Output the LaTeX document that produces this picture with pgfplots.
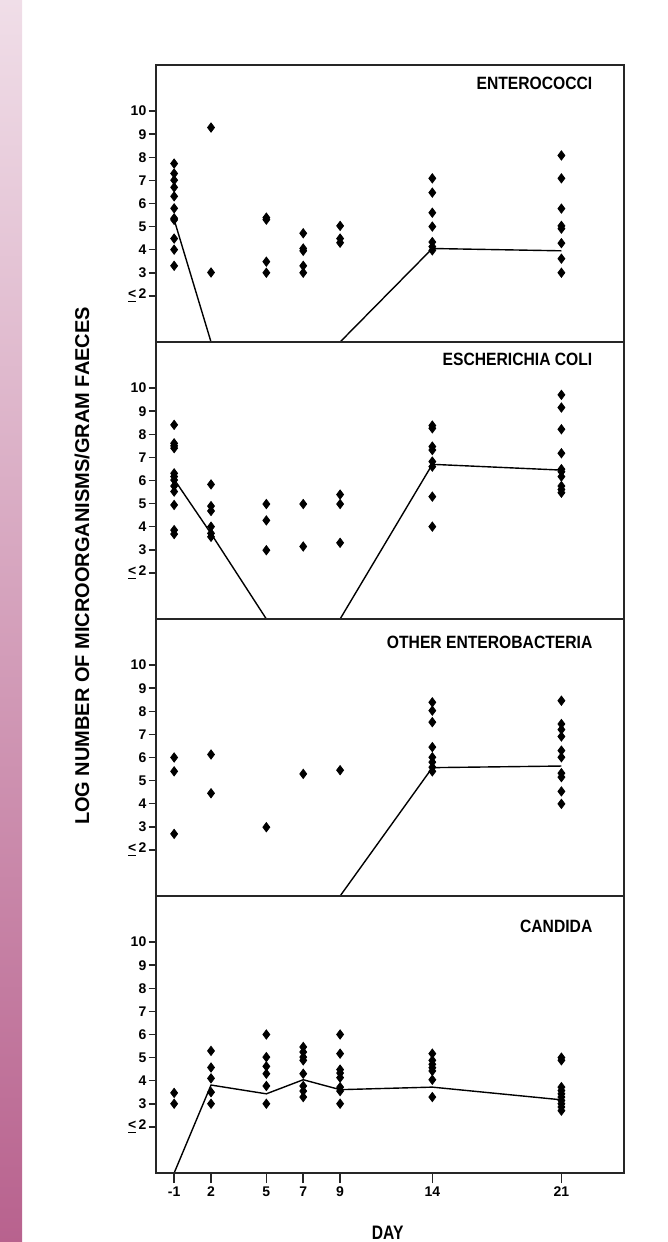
\documentclass[border=0pt]{standalone}
\usepackage{fontspec}
\setmainfont{Liberation Sans}
\newfontfamily\condfont[FakeStretch=0.88]{Liberation Sans}
\newfontfamily\daysfont[FakeStretch=0.8]{Liberation Sans}
\usepackage{pgfplots}
\pgfplotsset{compat=1.18}

\definecolor{pinktop}{RGB}{240,222,232}
\definecolor{pinkbot}{RGB}{184,98,142}

\pgfplotsset{
  panel/.style={
    scale only axis, width=234.2pt, height=138.5pt,
    anchor=north west,
    xmin=-1, xmax=24.4, ymin=0, ymax=12,
    ytick={2,...,10},
    yticklabels={{\underline{<}\,2},3,4,5,6,7,8,9,10},
    ytick pos=left, xtick=\empty,
    tick align=outside, major tick length=3.5pt,
    axis line style={line width=1pt, black!85},
    every tick/.style={black!85, line width=0.8pt},
    tick label style={font=\bfseries\fontsize{7}{8}\selectfont},
    yticklabel style={inner sep=1pt},
    /pgf/number format/assume math mode=true,
    axis on top,
  },
  pts/.style={only marks, mark=diamond*, mark size=2.3pt, black},
  avg/.style={no marks, black, line width=0.7pt},
}
\newcommand{\paneltitle}[2]{\node[anchor=base east, inner sep=0pt,
  font=\condfont\bfseries\fontsize{8.9}{10}\selectfont] at (axis cs:22.7,#1) {#2};}

\begin{document}
\begin{tikzpicture}
\path[use as bounding box] (0,0) rectangle (334pt,621pt);
\shade[top color=pinktop, bottom color=pinkbot] (0,0) rectangle (11pt,621pt);

% Enterococci
\begin{axis}[panel, at={(77.85pt,588.5pt)}]
\addplot[pts] coordinates {
 (0,7.73)(0,7.30)(0,7.01)(0,6.70)(0,6.31)(0,5.79)(0,5.36)(0,5.29)(0,4.48)(0,4.00)(0,3.30)
 (2,9.29)(2,3.01)
 (5,5.39)(5,5.30)(5,3.48)(5,3.00)
 (7,4.71)(7,4.05)(7,3.95)(7,3.30)(7,3.00)
 (9,5.03)(9,4.48)(9,4.30)
 (14,7.09)(14,6.47)(14,5.60)(14,5.00)(14,4.33)(14,4.13)(14,3.97)
 (21,8.08)(21,7.09)(21,5.78)(21,5.03)(21,4.91)(21,4.28)(21,3.61)(21,3.00)
};
\addplot[avg] coordinates {(0,5.30)(2,0)(5,0)(7,0)(9,0)(14,4.05)(21,3.95)};
\paneltitle{10.92}{ENTEROCOCCI}
\end{axis}

% Escherichia coli
\begin{axis}[panel, at={(77.85pt,450pt)}]
\addplot[pts] coordinates {
 (0,8.41)(0,7.61)(0,7.50)(0,7.40)(0,6.31)(0,6.17)(0,6.02)(0,5.76)(0,5.52)(0,4.94)(0,3.85)(0,3.68)
 (2,5.83)(2,4.89)(2,4.68)(2,4.00)(2,3.71)(2,3.56)
 (5,4.98)(5,4.27)(5,2.98)
 (7,4.98)(7,3.14)
 (9,5.39)(9,4.98)(9,3.30)
 (14,8.38)(14,8.26)(14,7.47)(14,7.32)(14,6.82)(14,6.60)(14,5.30)(14,4.00)
 (21,9.71)(21,9.16)(21,8.22)(21,7.18)(21,6.49)(21,6.38)(21,6.17)(21,5.76)(21,5.61)(21,5.47)
};
\addplot[avg] coordinates {(0,6.05)(2,3.70)(5,0)(7,0)(9,0)(14,6.70)(21,6.45)};
\paneltitle{10.96}{ESCHERICHIA COLI}
\end{axis}

% Other enterobacteria
\begin{axis}[panel, at={(77.85pt,311.5pt)}]
\addplot[pts] coordinates {
 (0,6.00)(0,5.40)(0,2.69)
 (2,6.13)(2,4.45)
 (5,2.98)
 (7,5.29)
 (9,5.45)
 (14,8.39)(14,8.03)(14,7.53)(14,6.45)(14,6.01)(14,5.80)(14,5.58)(14,5.40)
 (21,8.46)(21,7.45)(21,7.21)(21,6.91)(21,6.30)(21,6.01)(21,5.32)(21,5.15)(21,4.53)(21,3.99)
};
\addplot[avg] coordinates {(0,0)(2,0)(5,0)(7,0)(9,0)(14,5.56)(21,5.63)};
\paneltitle{10.74}{OTHER ENTEROBACTERIA}
\end{axis}

% Candida
\begin{axis}[panel, at={(77.85pt,173pt)},
  xtick={0,2,5,7,9,14,21}, xticklabels={-1,2,5,7,9,14,21},
  xtick pos=bottom, xtick style={/pgfplots/major tick length=5pt}]
\addplot[pts] coordinates {
 (0,3.47)(0,3.00)
 (2,5.29)(2,4.57)(2,4.10)(2,3.50)(2,3.00)
 (5,6.00)(5,5.02)(5,4.62)(5,4.30)(5,3.77)(5,3.00)
 (7,5.46)(7,5.24)(7,5.02)(7,4.88)(7,4.30)(7,3.77)(7,3.55)(7,3.29)
 (9,6.00)(9,5.17)(9,4.48)(9,4.33)(9,4.13)(9,3.72)(9,3.55)(9,3.00)
 (14,5.17)(14,4.88)(14,4.71)(14,4.56)(14,4.42)(14,4.04)(14,3.29)
 (21,5.00)(21,4.88)(21,3.72)(21,3.57)(21,3.43)(21,3.29)(21,3.14)(21,3.00)(21,2.86)(21,2.70)
};
\addplot[avg] coordinates {(0,0)(2,3.81)(5,3.43)(7,4.04)(9,3.61)(14,3.72)(21,3.17)};
\paneltitle{10.41}{CANDIDA}
\end{axis}

\node[anchor=base, inner sep=0pt, font=\daysfont\bfseries\fontsize{9.75}{11}\selectfont]
  at (193.85pt,1.4pt) {DAY};
\node[rotate=90, inner sep=0pt, font=\bfseries\fontsize{10}{12}\selectfont]
  at (41pt,338pt) {LOG NUMBER OF MICROORGANISMS/GRAM FAECES};
\end{tikzpicture}
\end{document}
